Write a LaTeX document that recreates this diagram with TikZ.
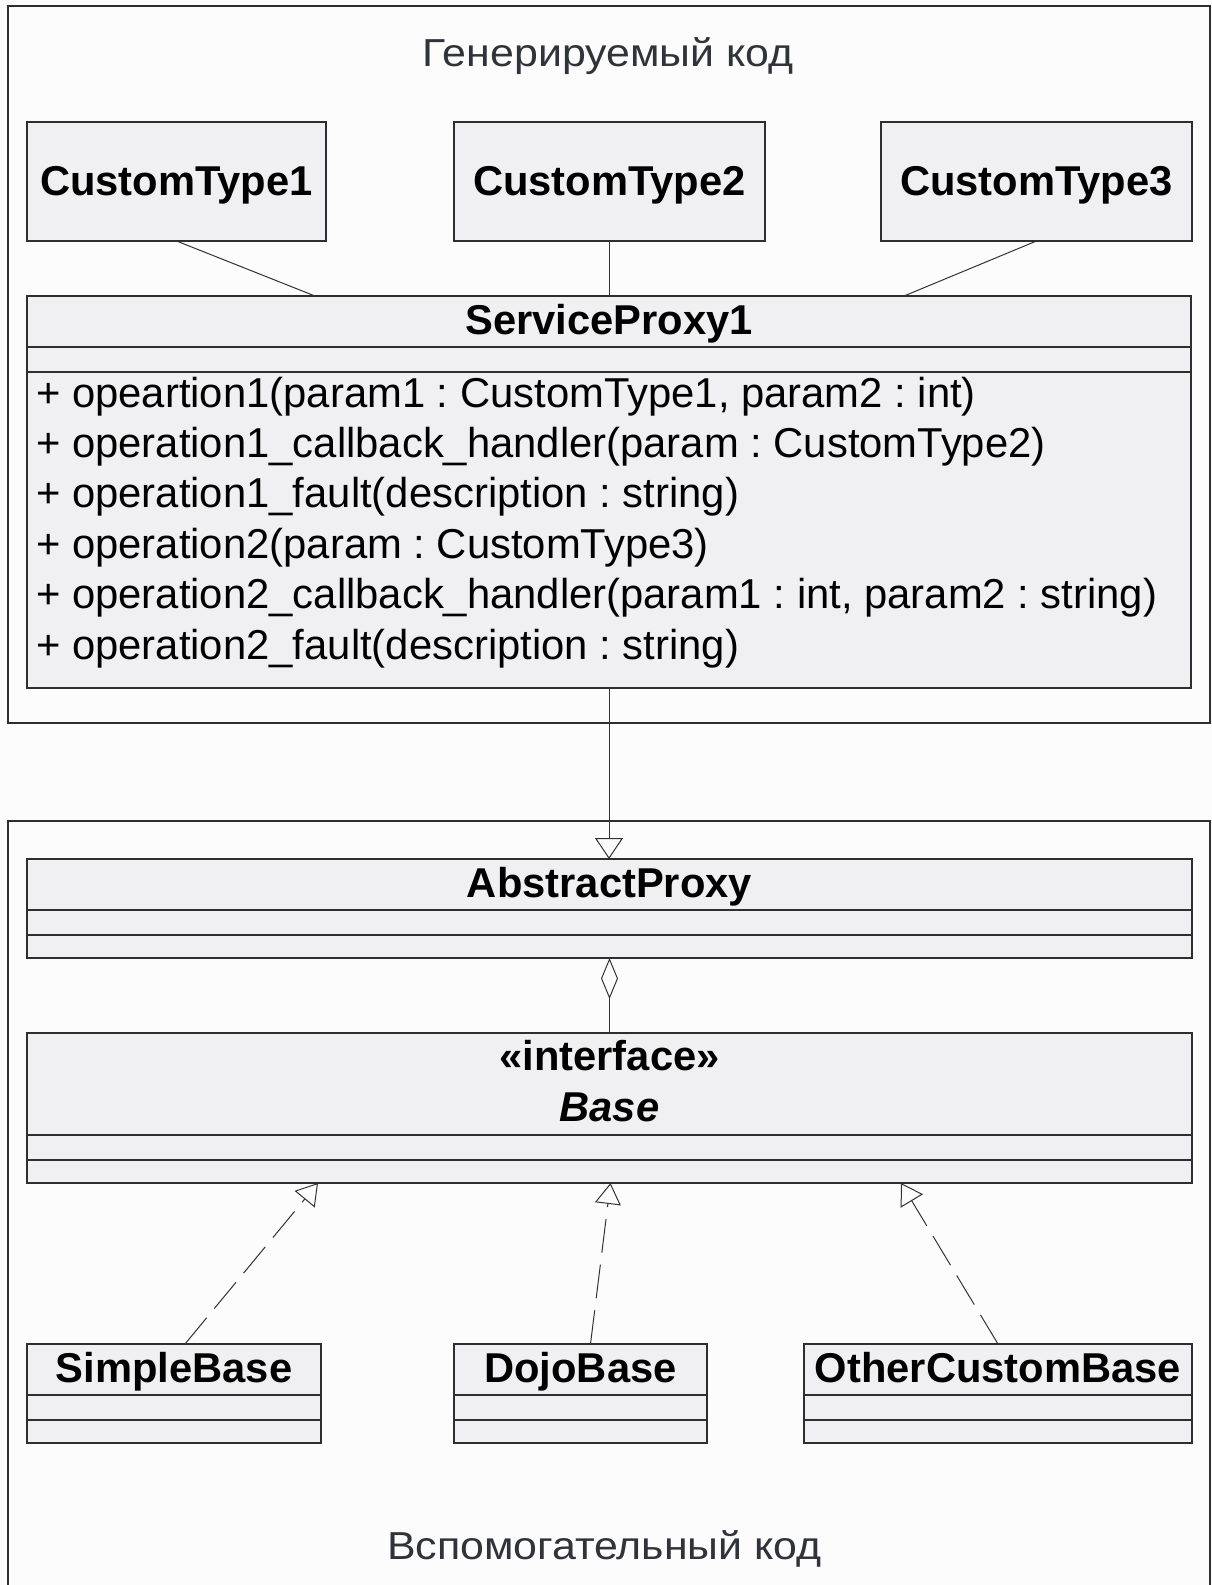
\documentclass[tikz,border=0pt]{standalone}
\usepackage{fontspec}
\setmainfont{Liberation Sans}
\newfontfamily\pkgfont[FakeStretch=1.1]{Liberation Sans}
\usetikzlibrary{arrows.meta}
\frenchspacing

\definecolor{boxfill}{HTML}{F0F0F2}
\definecolor{boxline}{HTML}{2E2E2E}
\definecolor{paper}{HTML}{FCFCFC}
\definecolor{titlecol}{HTML}{30333A}

\tikzset{
  classbox/.style={draw=boxline, line width=1.8pt, fill=boxfill, inner sep=0pt, outer sep=0pt, anchor=north west},
  pkgframe/.style={draw=boxline, line width=2pt},
  compart/.style={draw=boxline, line width=1.8pt},
  classname/.style={font=\fontsize{41.7}{49}\selectfont\bfseries, anchor=base, inner sep=0pt},
  member/.style={font=\fontsize{41.8}{49}\selectfont, anchor=base west, inner sep=0pt},
  pkgtitle/.style={font=\pkgfont\fontsize{39}{48}\selectfont, text=titlecol, anchor=base, inner sep=0pt},
  assoc/.style={draw=black!80, line width=1pt},
  generalize/.style={assoc, -{Triangle[open, length=21pt, width=28pt]}},
  realize/.style={assoc, dash pattern=on 34pt off 12pt, -{Triangle[open, length=21pt, width=26pt]}},
  aggregate/.style={assoc, {Diamond[open, length=41pt, width=17pt]}-},
}

\begin{document}
\begin{tikzpicture}[x=1pt, y=-1pt]
  \clip (0,0) rectangle (1212,1585);
  \fill[paper] (0,0) rectangle (1212,1585);

  % package frames
  \draw[pkgframe] (8,6) rectangle (1210,723);
  \draw[pkgframe] (8,821) rectangle (1210,1640);
  \node[pkgtitle] (gentitle) at (608,66) {Генерируемый код};
  \node[pkgtitle] (auxtitle) at (604.5,1559) {Вспомогательный код};

  % generated types
  \node[classbox, minimum width=299pt, minimum height=119pt] (ct1) at (27,122) {};
  \node[classbox, minimum width=311pt, minimum height=119pt] (ct2) at (454,122) {};
  \node[classbox, minimum width=311pt, minimum height=119pt] (ct3) at (881,122) {};
  \node[classname] (ct1name) at (176.5,195) {CustomType1};
  \node[classname] (ct2name) at (609.5,195) {CustomType2};
  \node[classname] (ct3name) at (1036.5,195) {CustomType3};

  % service proxy
  \node[classbox, minimum width=1164pt, minimum height=392pt] (sp) at (27,296) {};
  \draw[compart] (27,347) -- (1191,347);
  \draw[compart] (27,372) -- (1191,372);
  \node[classname] (spname) at (609,334) {ServiceProxy1};
  \node[member] (op1) at (36,407) {+ opeartion1(param1 : CustomType1, param2 : int)};
  \node[member] (op2) at (36,457.4) {+ operation1\_callback\_handler(param : CustomType2)};
  \node[member] (op3) at (36,507.8) {+ operation1\_fault(description : string)};
  \node[member] (op4) at (36,558.2) {+ operation2(param : CustomType3)};
  \node[member] (op5) at (36,608.6) {+ operation2\_callback\_handler(param1 : int, param2 : string)};
  \node[member] (op6) at (36,659) {+ operation2\_fault(description : string)};

  % abstract proxy
  \node[classbox, minimum width=1165pt, minimum height=99pt] (ap) at (27,859) {};
  \draw[compart] (27,910) -- (1192,910);
  \draw[compart] (27,935) -- (1192,935);
  \node[classname] (apname) at (609.5,897) {AbstractProxy};

  % base interface
  \node[classbox, minimum width=1165pt, minimum height=150pt] (base) at (27,1033) {};
  \draw[compart] (27,1135) -- (1192,1135);
  \draw[compart] (27,1160) -- (1192,1160);
  \node[classname] (stereo) at (609.5,1070) {«interface»};
  \node[classname, font=\fontsize{41.7}{49}\selectfont\bfseries\itshape] (basename) at (609.5,1121) {Base};

  % implementations
  \node[classbox, minimum width=294pt, minimum height=99pt] (sb) at (27,1344) {};
  \node[classbox, minimum width=253pt, minimum height=99pt] (dojo) at (454,1344) {};
  \node[classbox, minimum width=388pt, minimum height=99pt] (ocb) at (804,1344) {};
  \foreach \y in {1395,1420} {
    \draw[compart] (27,\y) -- (321,\y);
    \draw[compart] (454,\y) -- (707,\y);
    \draw[compart] (804,\y) -- (1192,\y);
  }
  \node[classname] (sbname) at (174,1382) {SimpleBase};
  \node[classname] (dojoname) at (580.5,1382) {DojoBase};
  \node[classname] (ocbname) at (998,1382) {OtherCustomBase};

  % connectors
  \draw[assoc] (ct1.south) -- ([xshift=288pt]sp.north west);
  \draw[assoc] (ct2.south) -- (ct2.south |- sp.north);
  \draw[assoc] (ct3.south) -- ([xshift=877pt]sp.north west);
  \draw[generalize] (sp.south) -- (sp.south |- ap.north);
  \draw[aggregate] (ap.south) -- (base.north);
  \draw[realize] ([xshift=11pt]sb.north) -- ([xshift=291pt]base.south west);
  \draw[realize] ([xshift=10pt]dojo.north) -- ([xshift=1pt]base.south);
  \draw[realize] (ocb.north) -- ([xshift=874pt]base.south west);
\end{tikzpicture}
\end{document}
